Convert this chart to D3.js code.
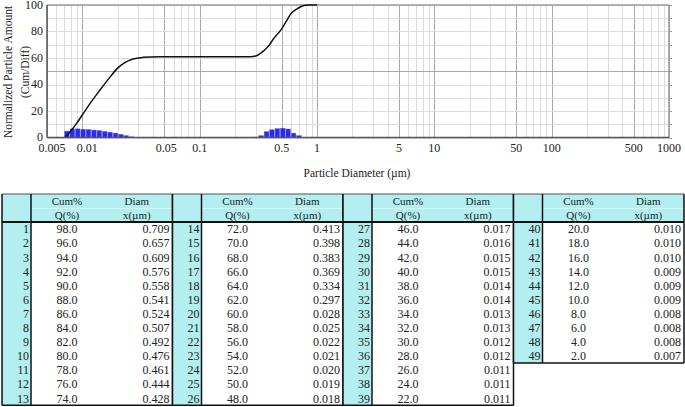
<!DOCTYPE html>
<html>
<head>
<meta charset="utf-8">
<script src="https://cdn.jsdelivr.net/npm/d3@7"></script>
<style>
  html, body { margin: 0; padding: 0; background: #fff; }
  svg { display: block; }
  text { font-family: "Liberation Serif", "Times New Roman", serif; }
</style>
</head>
<body>
<svg id="chart" width="685" height="407"></svg>
<script>
// ---------------- DATA ----------------
// Cumulative curve (diameter µm, cumulative %)
const curveDiam = [0.00712, 0.0080, 0.0090, 0.0100, 0.0115, 0.0142, 0.0170, 0.0198, 0.0230, 0.0270, 0.0330, 0.0450, 0.100, 0.270, 0.300, 0.347, 0.390, 0.422, 0.460, 0.500, 0.550, 0.600, 0.660, 0.720, 0.790, 0.850, 1.000];
const curveCum  = [0, 5, 11, 17, 25, 36, 45, 52, 56.5, 59.3, 60.5, 61, 61, 61, 61.5, 65, 69.5, 74, 78, 82, 88, 93.5, 96.5, 98.5, 99.8, 100, 100];

// Differential histogram (bin centre diameter µm, amount)
const binDiam = [0.00739, 0.00822, 0.00913, 0.01016, 0.01129, 0.01256, 0.01396, 0.01552, 0.01726, 0.01919, 0.02133, 0.02372, 0.02637,
                 0.3008, 0.3343, 0.3717, 0.4133, 0.4595, 0.5110, 0.5681, 0.6317, 0.7023];
const binValue = [4.8, 6.5, 6.5, 6.2, 6.0, 5.6, 5.2, 4.6, 4.0, 3.3, 2.4, 1.4, 0.5,
                  0.3, 1.4, 4.4, 5.8, 6.7, 7.0, 6.4, 3.3, 1.4];

// Axis ticks
const xTickValues = [0.005, 0.01, 0.05, 0.1, 0.5, 1, 5, 10, 50, 100, 500, 1000];
const xTickLabels = ["0.005", "0.01", "0.05", "0.1", "0.5", "1", "5", "10", "50", "100", "500", "1000"];
const yTickValues = [0, 20, 40, 60, 80, 100];
const yTickLabels = ["0", "20", "40", "60", "80", "100"];

// Table
const tableIndex = [1,2,3,4,5,6,7,8,9,10,11,12,13,14,15,16,17,18,19,20,21,22,23,24,25,26,27,28,29,30,31,32,33,34,35,36,37,38,39,40,41,42,43,44,45,46,47,48,49];
const tableCum = ["98.0","96.0","94.0","92.0","90.0","88.0","86.0","84.0","82.0","80.0","78.0","76.0","74.0",
                  "72.0","70.0","68.0","66.0","64.0","62.0","60.0","58.0","56.0","54.0","52.0","50.0","48.0",
                  "46.0","44.0","42.0","40.0","38.0","36.0","34.0","32.0","30.0","28.0","26.0","24.0","22.0",
                  "20.0","18.0","16.0","14.0","12.0","10.0","8.0","6.0","4.0","2.0"];
const tableDiam = ["0.709","0.657","0.609","0.576","0.558","0.541","0.524","0.507","0.492","0.476","0.461","0.444","0.428",
                   "0.413","0.398","0.383","0.369","0.334","0.297","0.028","0.025","0.022","0.021","0.020","0.019","0.018",
                   "0.017","0.016","0.015","0.015","0.014","0.014","0.013","0.013","0.012","0.012","0.011","0.011","0.011",
                   "0.010","0.010","0.010","0.009","0.009","0.009","0.008","0.008","0.008","0.007"];
const headerTop = ["Cum%", "Diam"];
const headerBottom = ["Q(%)", "x(\u00b5m)"];

// ---------------- CHART ----------------
const svg = d3.select("#chart");
const L = 47, R = 669, T = 5, B = 137.5;
const x = d3.scaleLog().domain([0.005, 1000]).range([L, R]);
const y = d3.scaleLinear().domain([0, 100]).range([B, T]);

const grid = svg.append("g");
const allX = x.ticks();
const majorSet = new Set(xTickValues.map(v => +v.toPrecision(6)));
grid.selectAll("line.vx").data(allX).enter().append("line")
  .attr("x1", d => Math.round(x(d)) + 0.5).attr("x2", d => Math.round(x(d)) + 0.5)
  .attr("y1", T).attr("y2", B)
  .attr("stroke", d => majorSet.has(+d.toPrecision(6)) ? "#a8a8a8" : "#dcdcdc")
  .attr("stroke-width", 1);

const yGrid = d3.range(0, 101, 10);
grid.selectAll("line.hy").data(yGrid).enter().append("line")
  .attr("x1", L).attr("x2", R)
  .attr("y1", d => Math.round(y(d)) + 0.5).attr("y2", d => Math.round(y(d)) + 0.5)
  .attr("stroke", d => d === 50 ? "#a8a8a8" : "#dcdcdc");

// right-side small ticks
grid.selectAll("line.rt").data(yGrid).enter().append("line")
  .attr("x1", R).attr("x2", R + 3)
  .attr("y1", d => Math.round(y(d)) + 0.5).attr("y2", d => Math.round(y(d)) + 0.5)
  .attr("stroke", "#999");

// frame
svg.append("line").attr("x1", L).attr("x2", R).attr("y1", T).attr("y2", T).attr("stroke", "#999").attr("stroke-width", 1.5);
svg.append("line").attr("x1", R).attr("x2", R).attr("y1", T).attr("y2", B).attr("stroke", "#999").attr("stroke-width", 1.5);

// bars
const h = 0.023;
svg.append("g").selectAll("rect").data(binDiam.map((d, i) => ({d, v: binValue[i]}))).enter().append("rect")
  .attr("x", d => x(d.d / Math.pow(10, h)) + 0.4)
  .attr("width", d => x(d.d * Math.pow(10, h)) - x(d.d / Math.pow(10, h)) - 0.8)
  .attr("y", d => y(d.v))
  .attr("height", d => B - y(d.v))
  .attr("fill", "#2a2af2")
  .attr("stroke", "#5a5aff").attr("stroke-width", 0.4);

// curve
const pts = curveDiam.map((d, i) => [d, curveCum[i]]);
svg.append("path").datum(pts)
  .attr("d", d3.line().x(d => x(d[0])).y(d => y(d[1])).curve(d3.curveMonotoneX))
  .attr("fill", "none").attr("stroke", "#111").attr("stroke-width", 1.5);

// axes lines
svg.append("line").attr("x1", L).attr("x2", L).attr("y1", T).attr("y2", B).attr("stroke", "#555").attr("stroke-width", 1.5);
svg.append("line").attr("x1", L).attr("x2", R).attr("y1", B).attr("y2", B).attr("stroke", "#555").attr("stroke-width", 1.5);

// tick labels (first two nudged right as in the source)
const xLabelNudge = [5, 5, 2, 0, 0, 0, 0, 0, 0, 0, 0, 0];
svg.append("g").selectAll("text").data(xTickValues).enter().append("text")
  .attr("x", (d, i) => x(d) + xLabelNudge[i]).attr("y", 152)
  .attr("text-anchor", "middle").attr("font-size", 12).attr("fill", "#222")
  .text((d, i) => xTickLabels[i]);
svg.append("g").selectAll("text").data(yTickValues).enter().append("text")
  .attr("x", 43).attr("y", d => y(d) + 3.5)
  .attr("text-anchor", "end").attr("font-size", 12).attr("fill", "#222")
  .text((d, i) => yTickLabels[i]);

// axis titles
svg.append("text").attr("x", 357).attr("y", 177).attr("text-anchor", "middle")
  .attr("font-size", 11.5).attr("fill", "#222").text("Particle Diameter (\u00b5m)");
const yt = svg.append("text").attr("transform", "translate(0,72) rotate(-90)")
  .attr("text-anchor", "middle").attr("font-size", 11.5).attr("fill", "#222");
yt.append("tspan").attr("x", 0).attr("y", 12).text("Normalized Particle Amount");
yt.append("tspan").attr("x", 0).attr("y", 29).text("(Cum/Diff)");

// ---------------- TABLE ----------------
const tX0 = 2, blockW = 170.5, idxW = 29, cumW = 70;
const hTop = 194, hRow = 14, rTop = 222, rowH = 14.1, perBlock = 13;
const cyan = "#b3eff0";
const tg = svg.append("g");
const blocks = d3.range(0, tableIndex.length, perBlock).map(s => d3.range(s, Math.min(s + perBlock, tableIndex.length)));

blocks.forEach((rows, b) => {
  const bx = tX0 + b * blockW;
  const bottom = rTop + rows.length * rowH;
  const g = tg.append("g");
  g.append("rect").attr("x", bx).attr("y", hTop).attr("width", blockW).attr("height", rTop - hTop).attr("fill", cyan);
  g.append("rect").attr("x", bx).attr("y", rTop).attr("width", idxW).attr("height", bottom - rTop).attr("fill", cyan);
  g.append("rect").attr("x", bx + idxW).attr("y", rTop).attr("width", blockW - idxW).attr("height", bottom - rTop).attr("fill", "#fff");
  g.append("line").attr("x1", bx + idxW).attr("x2", bx + blockW).attr("y1", hTop + hRow + 0.5).attr("y2", hTop + hRow + 0.5)
    .attr("stroke", "#d8f8f8").attr("stroke-width", 1);
  const cx = [bx + idxW + cumW / 2 + 1, bx + idxW + cumW + (blockW - idxW - cumW) / 2];
  headerTop.forEach((t, i) => g.append("text").attr("x", cx[i]).attr("y", hTop + 11).attr("text-anchor", "middle")
    .attr("font-size", 11).attr("fill", "#222").text(t));
  headerBottom.forEach((t, i) => g.append("text").attr("x", cx[i]).attr("y", hTop + hRow + 11).attr("text-anchor", "middle")
    .attr("font-size", 11).attr("fill", "#222").text(t));
  g.selectAll("g.row").data(rows).enter().append("g").each(function(ri, j) {
    const ry = rTop + j * rowH + rowH / 2 + 4.3;
    const s = d3.select(this);
    s.append("text").attr("x", bx + idxW - 2).attr("y", ry).attr("text-anchor", "end").attr("font-size", 12).attr("fill", "#222").text(tableIndex[ri]);
    s.append("text").attr("x", cx[0]).attr("y", ry).attr("text-anchor", "middle").attr("font-size", 12).attr("fill", "#222").text(tableCum[ri]);
    s.append("text").attr("x", bx + blockW - 3).attr("y", ry).attr("text-anchor", "end").attr("font-size", 12).attr("fill", "#222").text(tableDiam[ri]);
  });
  g.append("line").attr("x1", bx).attr("x2", bx + blockW).attr("y1", hTop).attr("y2", hTop).attr("stroke", "#555").attr("stroke-width", 1);
  g.append("line").attr("x1", bx).attr("x2", bx + blockW).attr("y1", rTop).attr("y2", rTop).attr("stroke", "#111").attr("stroke-width", 2);
  g.append("line").attr("x1", bx).attr("x2", bx + blockW).attr("y1", bottom).attr("y2", bottom).attr("stroke", "#111").attr("stroke-width", 1.5);
  g.append("line").attr("x1", bx).attr("x2", bx).attr("y1", hTop).attr("y2", bottom).attr("stroke", "#111").attr("stroke-width", 1.5);
  g.append("line").attr("x1", bx + blockW).attr("x2", bx + blockW).attr("y1", hTop).attr("y2", bottom).attr("stroke", "#111").attr("stroke-width", 1.5);
  g.append("line").attr("x1", bx + idxW).attr("x2", bx + idxW).attr("y1", hTop).attr("y2", bottom).attr("stroke", "#111").attr("stroke-width", 1.5);
});
</script>
</body>
</html>
